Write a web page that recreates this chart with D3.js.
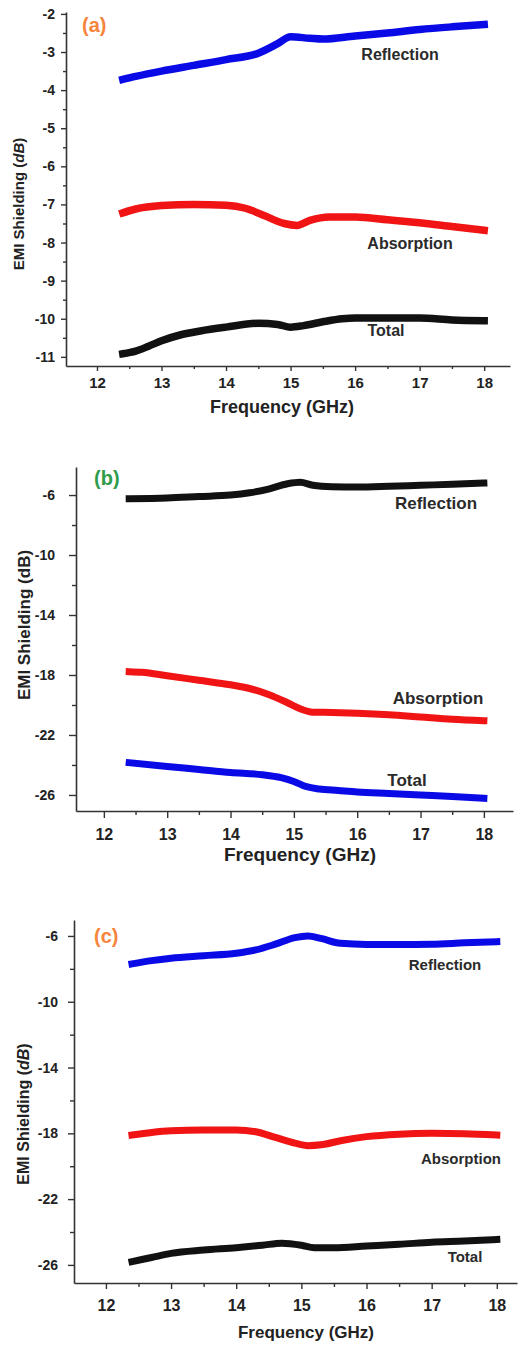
<!DOCTYPE html>
<html><head><meta charset="utf-8">
<script src="https://cdn.jsdelivr.net/npm/d3@7"></script>
<style>
html,body{margin:0;padding:0;background:#fff;}
svg{display:block;font-family:"Liberation Sans",Arial,sans-serif;}
</style></head>
<body>
<svg id="chart" width="528" height="1349"></svg>
<script>
// ---------- DATA ----------
const xMajorTicks = [12, 13, 14, 15, 16, 17, 18];
const xMinorTicks = [12.5, 13.5, 14.5, 15.5, 16.5, 17.5];

// Panel (a)
const yMajorA = [-2, -3, -4, -5, -6, -7, -8, -9, -10, -11];
const yMinorA = [-2.5, -3.5, -4.5, -5.5, -6.5, -7.5, -8.5, -9.5, -10.5];
const freqReflA = [12.4, 12.6, 13, 13.5, 14, 14.5, 14.8, 15, 15.3, 15.5, 16, 16.5, 17, 17.5, 18];
const reflA = [-3.72, -3.64, -3.5, -3.35, -3.2, -3.03, -2.78, -2.6, -2.64, -2.66, -2.58, -2.5, -2.41, -2.34, -2.28];
const freqAbsA = [12.4, 12.6, 13, 13.5, 14, 14.3, 14.6, 14.9, 15.1, 15.3, 15.6, 16, 16.5, 17, 17.5, 18];
const absA = [-7.22, -7.12, -7.03, -7.0, -7.02, -7.1, -7.3, -7.5, -7.55, -7.42, -7.33, -7.33, -7.4, -7.48, -7.58, -7.68];
const freqTotA = [12.4, 12.6, 12.8, 13, 13.3, 13.6, 14, 14.5, 14.8, 15, 15.2, 15.5, 15.8, 16, 16.5, 17, 17.5, 18];
const totA = [-10.92, -10.85, -10.72, -10.58, -10.42, -10.32, -10.22, -10.12, -10.15, -10.22, -10.18, -10.08, -10.0, -9.98, -9.98, -9.98, -10.03, -10.05];

// Panel (b)
const yMajorB = [-6, -10, -14, -18, -22, -26];
const yMinorB = [-8, -12, -16, -20, -24];
const freqReflB = [12.4, 13, 13.5, 14, 14.3, 14.6, 14.9, 15.1, 15.3, 15.6, 16, 16.5, 17, 17.5, 18];
const reflB = [-6.25, -6.2, -6.1, -6.0, -5.85, -5.6, -5.25, -5.15, -5.35, -5.45, -5.47, -5.42, -5.35, -5.28, -5.2];
const freqAbsB = [12.4, 12.6, 13, 13.5, 14, 14.3, 14.6, 14.9, 15.1, 15.3, 15.6, 16, 16.5, 17, 17.5, 18];
const absB = [-17.78, -17.82, -18.05, -18.35, -18.65, -18.9, -19.3, -19.85, -20.25, -20.48, -20.5, -20.55, -20.65, -20.8, -20.95, -21.05];
const freqTotB = [12.4, 13, 13.5, 14, 14.5, 14.8, 15, 15.2, 15.4, 15.7, 16, 16.5, 17, 17.5, 18];
const totB = [-23.85, -24.1, -24.3, -24.5, -24.65, -24.85, -25.1, -25.45, -25.6, -25.7, -25.8, -25.9, -26.0, -26.1, -26.22];

// Panel (c)
const yMajorC = [-6, -10, -14, -18, -22, -26];
const yMinorC = [-8, -12, -16, -20, -24];
const freqReflC = [12.4, 12.7, 13, 13.5, 14, 14.3, 14.6, 14.9, 15.1, 15.3, 15.6, 16, 16.5, 17, 17.5, 18];
const reflC = [-7.7, -7.5, -7.35, -7.2, -7.05, -6.85, -6.5, -6.1, -6.0, -6.15, -6.45, -6.52, -6.52, -6.5, -6.42, -6.35];
const freqAbsC = [12.4, 12.7, 13, 13.5, 14, 14.3, 14.6, 14.9, 15.1, 15.3, 15.6, 16, 16.5, 17, 17.5, 18];
const absC = [-18.1, -17.95, -17.85, -17.8, -17.8, -17.9, -18.25, -18.6, -18.75, -18.7, -18.45, -18.2, -18.05, -18.0, -18.02, -18.1];
const freqTotC = [12.4, 12.7, 13, 13.5, 14, 14.4, 14.7, 15, 15.2, 15.5, 16, 16.5, 17, 17.5, 18];
const totC = [-25.8, -25.55, -25.3, -25.1, -24.95, -24.8, -24.68, -24.8, -24.95, -24.95, -24.85, -24.75, -24.62, -24.55, -24.45];

const seriesNames = ["Reflection", "Absorption", "Total"];
const panelLetters = ["(a)", "(b)", "(c)"];
const xTitle = "Frequency (GHz)";

// ---------- STYLE / LAYOUT ----------
const BLUE = "#0a0ae6", RED = "#f01414", BLACK = "#111111";
const panels = [
  { letter: panelLetters[0], letterColor: "#f5843c", italicDB: true,
    xDom: [11.52, 18.4], xRange: [66, 510], yDom: [-11.24, -1.95], yRange: [366, 12],
    yMajor: yMajorA, yMinor: yMinorA, tickLen: 5, minorLen: 3, yLabelPad: 6,
    yFont: 14, xFont: 15, xLabelY: 388, xTitleY: 413, xTitleX: 282, xTitleFont: 18,
    yTitleX: 24, yTitleY: 204, yTitleFont: 15,
    letterX: 82, letterY: 32, letterFont: 20, sw: 7.5,
    series: [
      { f: freqReflA, v: reflA, c: BLUE, name: seriesNames[0], lx: 400, ly: 60, fs: 16 },
      { f: freqAbsA, v: absA, c: RED, name: seriesNames[1], lx: 410, ly: 249, fs: 16 },
      { f: freqTotA, v: totA, c: BLACK, name: seriesNames[2], lx: 386, ly: 336, fs: 16 }
    ] },
  { letter: panelLetters[1], letterColor: "#2f9c4a", italicDB: false,
    xDom: [11.56, 18.46], xRange: [76, 513], yDom: [-27.07, -4.13], yRange: [811, 467],
    yMajor: yMajorB, yMinor: yMinorB, tickLen: 7, minorLen: 4, yLabelPad: 14,
    yFont: 14, xFont: 16, xLabelY: 840, xTitleY: 861, xTitleX: 300, xTitleFont: 19,
    yTitleX: 30, yTitleY: 625, yTitleFont: 17,
    letterX: 94, letterY: 485, letterFont: 20, sw: 7,
    series: [
      { f: freqReflB, v: reflB, c: BLACK, name: seriesNames[0], lx: 436, ly: 509, fs: 17 },
      { f: freqAbsB, v: absB, c: RED, name: seriesNames[1], lx: 438, ly: 704, fs: 17 },
      { f: freqTotB, v: totB, c: BLUE, name: seriesNames[2], lx: 407, ly: 786, fs: 17 }
    ] },
  { letter: panelLetters[2], letterColor: "#f5843c", italicDB: true,
    xDom: [11.51, 18.31], xRange: [74, 517], yDom: [-27.1, -5.03], yRange: [1283, 920],
    yMajor: yMajorC, yMinor: yMinorC, tickLen: 6, minorLen: 4, yLabelPad: 10,
    yFont: 14, xFont: 16, xLabelY: 1311, xTitleY: 1338, xTitleX: 306, xTitleFont: 17,
    yTitleX: 29, yTitleY: 1114, yTitleFont: 16,
    letterX: 94, letterY: 943, letterFont: 20, sw: 7,
    series: [
      { f: freqReflC, v: reflC, c: BLUE, name: seriesNames[0], lx: 445, ly: 970, fs: 15 },
      { f: freqAbsC, v: absC, c: RED, name: seriesNames[1], lx: 461, ly: 1164, fs: 15 },
      { f: freqTotC, v: totC, c: BLACK, name: seriesNames[2], lx: 465, ly: 1262, fs: 15 }
    ] }
];

const svg = d3.select("#chart");
const AX = "#333";
const fmt = d => String(d); // plain hyphen-minus, as in the reference

panels.forEach(p => {
  const g = svg.append("g");
  const x = d3.scaleLinear().domain(p.xDom).range(p.xRange);
  const y = d3.scaleLinear().domain(p.yDom).range(p.yRange);
  const x0 = p.xRange[0], yb = p.yRange[0];

  // minor ticks
  g.append("g").attr("transform", `translate(0,${yb})`)
    .call(d3.axisBottom(x).tickValues(xMinorTicks).tickSize(p.minorLen).tickFormat(""))
    .call(a => a.select(".domain").remove());
  g.append("g").attr("transform", `translate(${x0},0)`)
    .call(d3.axisLeft(y).tickValues(p.yMinor).tickSize(p.minorLen).tickFormat(""))
    .call(a => a.select(".domain").remove());

  // major x axis
  const xa = g.append("g").attr("transform", `translate(0,${yb})`)
    .call(d3.axisBottom(x).tickValues(xMajorTicks).tickSize(p.tickLen).tickSizeOuter(0).tickFormat(fmt));
  xa.selectAll("text").attr("y", null).attr("dy", null)
    .attr("transform", `translate(0,${p.xLabelY - yb})`)
    .style("font-size", p.xFont + "px").style("font-weight", "bold").attr("fill", "#222");
  // major y axis
  const ya = g.append("g").attr("transform", `translate(${x0},0)`)
    .call(d3.axisLeft(y).tickValues(p.yMajor).tickSize(p.tickLen).tickSizeOuter(0).tickFormat(fmt));
  ya.selectAll("text").attr("x", -(p.tickLen + p.yLabelPad))
    .style("font-size", p.yFont + "px").style("font-weight", "bold").attr("fill", "#222");

  g.selectAll(".domain").attr("stroke", AX).attr("stroke-width", 1.6);
  g.selectAll(".tick line").attr("stroke", AX).attr("stroke-width", 1.4);
  g.selectAll(".tick text").style("font-family", "'Liberation Sans',Arial,sans-serif");

  // series
  const line = d3.line().x(d => x(d[0])).y(d => y(d[1])).curve(d3.curveMonotoneX);
  p.series.forEach(s => {
    const pts = s.f.map((f, i) => [f, s.v[i]]);
    g.append("path").datum(pts).attr("d", line)
      .attr("fill", "none").attr("stroke", s.c).attr("stroke-width", p.sw)
      .attr("stroke-linejoin", "round").attr("stroke-linecap", "square");
    g.append("text").attr("x", s.lx).attr("y", s.ly).attr("text-anchor", "middle")
      .style("font-size", s.fs + "px").style("font-weight", "bold").attr("fill", "#2a2a2a")
      .text(s.name);
  });

  // panel letter
  g.append("text").attr("x", p.letterX).attr("y", p.letterY)
    .style("font-size", p.letterFont + "px").style("font-weight", "bold")
    .attr("fill", p.letterColor).text(p.letter);

  // axis titles
  g.append("text").attr("x", p.xTitleX).attr("y", p.xTitleY).attr("text-anchor", "middle")
    .style("font-size", p.xTitleFont + "px").style("font-weight", "bold").attr("fill", "#222")
    .text(xTitle);
  const yt = g.append("text")
    .attr("transform", `translate(${p.yTitleX},${p.yTitleY}) rotate(-90)`)
    .attr("text-anchor", "middle")
    .style("font-size", p.yTitleFont + "px").style("font-weight", "bold").attr("fill", "#222");
  yt.append("tspan").text("EMI Shielding (");
  yt.append("tspan").style("font-style", p.italicDB ? "italic" : "normal").text("dB");
  yt.append("tspan").text(")");
});
</script>
</body></html>
